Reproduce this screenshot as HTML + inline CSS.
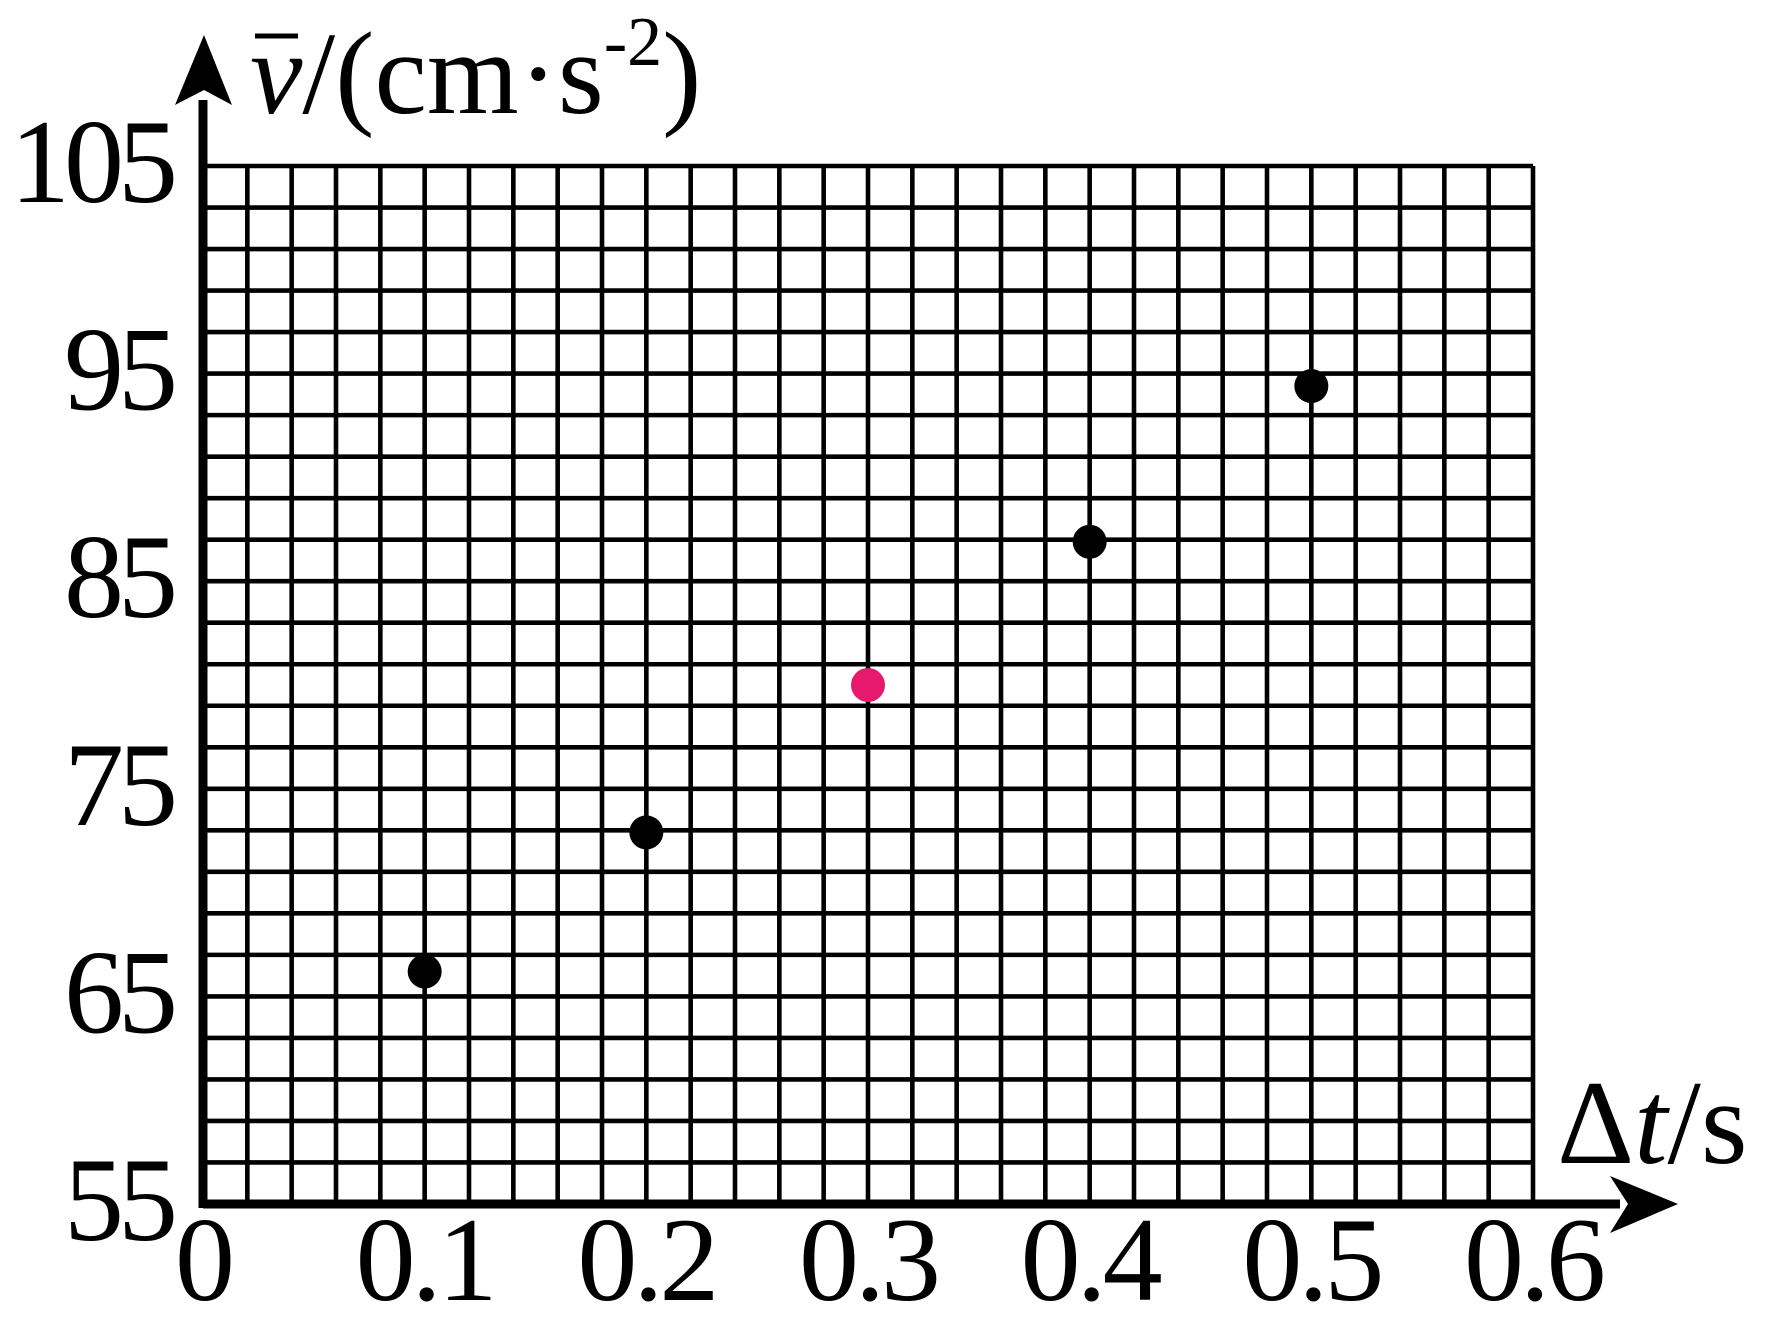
<!DOCTYPE html>
<html><head><meta charset="utf-8"><style>
html,body{margin:0;padding:0;background:#fff;width:1770px;height:1330px;overflow:hidden}
svg text{font-family:"Liberation Serif",serif;fill:#000}
</style></head><body>
<svg id="chart" width="1770" height="1330" viewBox="0 0 1770 1330" xmlns="http://www.w3.org/2000/svg">
<g id="grid"></g>
<g id="axes"></g>
<g id="labels"></g>
<g id="points"></g>
</svg>
<script>
const xTicks = ["0","0.1","0.2","0.3","0.4","0.5","0.6"];
const xTickValues = [0,0.1,0.2,0.3,0.4,0.5,0.6];
const yTickValues = [55,65,75,85,95,105];
const yTickLabels = ["55","65","75","85","95","105"];
const pointX = [0.1,0.2,0.3,0.4,0.5];
const pointY = [66.2,72.9,80.0,86.9,94.4];
const pointColor = ["#000","#000","#e6196e","#000","#000"];

const NS="http://www.w3.org/2000/svg";
const X0=203,X1=1533,Y0=1204,Y1=166;
const xMin=0,xMax=0.6,yMin=55,yMax=105;
function sx(v){return X0+(v-xMin)/(xMax-xMin)*(X1-X0);}
function sy(v){return Y0-(v-yMin)/(yMax-yMin)*(Y0-Y1);}
function mk(tag,attrs,parent){const e=document.createElementNS(NS,tag);for(const k in attrs)e.setAttribute(k,attrs[k]);parent.appendChild(e);return e;}

const grid=document.getElementById('grid');
for(let i=0;i<=30;i++){
  const x=sx(i*0.02);
  const l=mk('line',{x1:x,y1:Y1,x2:x,y2:Y0,stroke:'#000','stroke-width':4.6},grid);
  
  
}
for(let j=0;j<=25;j++){
  const y=sy(55+j*2);
  const l=mk('line',{x1:X0,y1:y,x2:X1,y2:y,stroke:'#000','stroke-width':4.6},grid);
  
  
}
const axes=document.getElementById('axes');
let a=mk('line',{x1:X0,y1:Y0,x2:1620,y2:Y0,stroke:'#000','stroke-width':9},axes);

a=mk('polygon',{points:'1678,1204 1610,1176 1628,1204 1610,1233',fill:'#000'},axes);

a=mk('line',{x1:X0,y1:Y0+4,x2:X0,y2:100,stroke:'#000','stroke-width':9},axes);

a=mk('polygon',{points:'204,35 175,105 204,90 232,105',fill:'#000'},axes);


const labels=document.getElementById('labels');
xTicks.forEach((t,i)=>{
  const e=mk('text',{x:sx(xTickValues[i]),y:1300,'font-size':120,'text-anchor':'middle','letter-spacing':-4},labels);
  e.textContent=t;
  
  
});
yTickLabels.forEach((t,i)=>{
  const e=mk('text',{x:172,y:sy(yTickValues[i])+36,'font-size':120,'text-anchor':'end','letter-spacing':-6},labels);
  e.textContent=t;
  
  
});
let tt=mk('text',{x:1557,y:1163,'font-size':120},labels);
tt.innerHTML='Δ<tspan font-style="italic">t</tspan>/s';

tt=mk('text',{x:250,y:113,'font-size':118},labels);
tt.innerHTML='<tspan font-style="italic">v</tspan>/(cm·s<tspan font-size="70" dy="-48">-2</tspan><tspan dy="48">)</tspan>';

a=mk('line',{x1:255,y1:36,x2:298,y2:36,stroke:'#000','stroke-width':5},labels);


const pts=document.getElementById('points');
pointX.forEach((v,i)=>{
  const c=mk('ellipse',{cx:sx(v),cy:sy(pointY[i]),rx:17,ry:17,fill:pointColor[i]},pts);
  
  
});
</script>
</body></html>
